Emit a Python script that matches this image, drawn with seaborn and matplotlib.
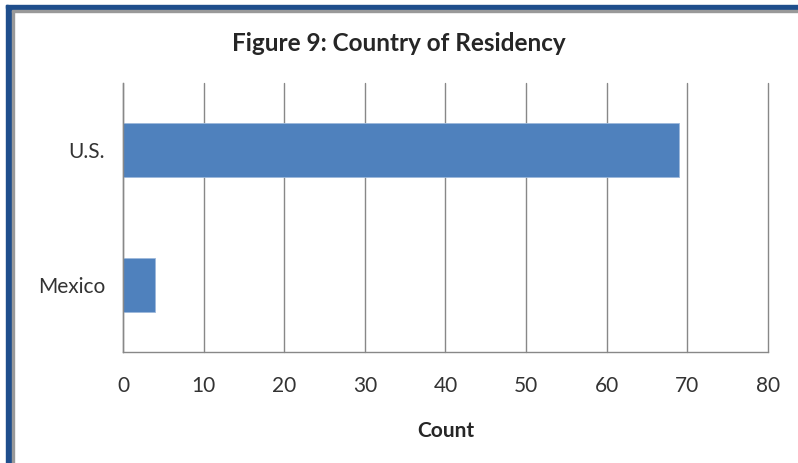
import matplotlib
matplotlib.use("Agg")
import matplotlib.pyplot as plt
from matplotlib.patches import Rectangle
import seaborn as sns
import pandas as pd

countries = ["U.S.", "Mexico"]
counts = [69, 4]

sns.set_style("white")
plt.rcParams["font.family"] = ["Lato", "DejaVu Sans"]

dtf = pd.DataFrame({"country": countries, "count": counts})

fig = plt.figure(figsize=(7.98, 4.63), dpi=100)
ax = fig.add_axes([0.1541, 0.2397, 0.8083, 0.5810])

sns.barplot(data=dtf, y="country", x="count", color="#4F81BD", saturation=1,
            width=0.4, ax=ax, edgecolor="#9DB9DB", linewidth=0.6)

ax.set_xlim(0, 80)
ax.set_xticks(range(0, 81, 10))
ax.grid(axis="x", color="#888888", linewidth=1)
for gl in ax.get_xgridlines():
    gl.set_clip_on(False)
ax.set_axisbelow(True)
ax.tick_params(axis="both", length=0, labelsize=15, colors="#333333")
ax.tick_params(axis="y", pad=13)
ax.tick_params(axis="x", pad=17)
for s in ["top", "right"]:
    ax.spines[s].set_visible(False)
for s in ["left", "bottom"]:
    ax.spines[s].set_color("#888888")
    ax.spines[s].set_linewidth(1)

ax.set_ylabel("")
ax.set_xlabel("Count", fontsize=15, fontweight="bold", labelpad=18)
fig.text(0.5, 0.907, "Figure 9: Country of Residency", ha="center", va="center",
         fontsize=17.5, fontweight="bold")

# page frame (double blue line with grey inner line)
W, H = 798, 463
def frame(x, y, w, h, c):
    fig.patches.append(Rectangle((x / W, 1 - (y + h) / H), w / W, h / H,
                                 transform=fig.transFigure, color=c, zorder=10))
frame(6, 5, 2, H, "#1F4E8C")
frame(9, 8, 2, H, "#1F4E8C")
frame(12, 10, 1.5, H, "#999999")
frame(6, 5, W, 2.5, "#1F4E8C")
frame(9, 8, W, 1.5, "#1F4E8C")
frame(12, 10, W, 1.5, "#999999")

fig.savefig("out.png", dpi=100)
